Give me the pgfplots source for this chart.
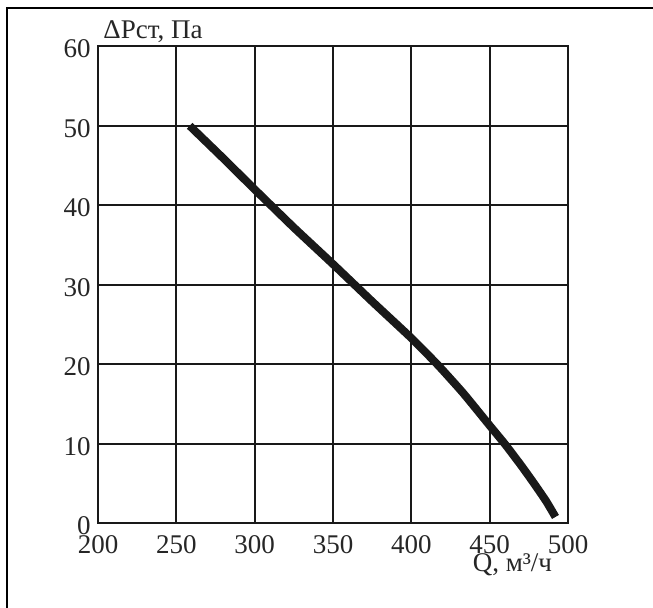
\documentclass[border=0pt]{standalone}
\usepackage{fontspec}
\setmainfont{Liberation Serif}
\usepackage{pgfplots}
\pgfplotsset{compat=1.18}

\begin{document}
\fontsize{13.5bp}{16bp}\selectfont
\begin{tikzpicture}
  % page area, measured from the lower-left corner of the plot box
  \useasboundingbox (-49bp,-42.35bp) rectangle (277.5bp,261.65bp);
  % frame (top and left edges)
  \draw[line width=1.15bp] (-45.5bp,-60bp) -- (-45.5bp,257.6bp) -- (300bp,257.6bp);

  \begin{axis}[
    at={(0,0)}, anchor=south west,
    scale only axis,
    width=235bp, height=238.5bp,
    xmin=200, xmax=500, ymin=0, ymax=60,
    xtick={200,250,...,500}, ytick={0,10,...,60},
    grid=major,
    major grid style={line width=0.95bp, black!90},
    axis line style={line width=1.1bp, black!90},
    major tick length=0pt,
    /pgf/number format/assume math mode=true,
    ticklabel style={font=\fontsize{13.5bp}{16bp}\selectfont, text=black!85},
    xticklabel style={anchor=north, inner sep=0pt, yshift=-5.8bp},
    yticklabel style={anchor=east, inner sep=0pt, xshift=-3.5bp, yshift=-1.3bp},
    clip=false,
  ]
    % fan curve: static pressure vs. air flow
    \addplot[line width=4bp, black!90, line cap=butt, smooth, tension=0.3] coordinates {
      (258.5,50.0) (280,45.9) (300,42.0) (325,37.2) (350,32.6)
      (375,27.9) (400,23.3) (417,19.9) (433,16.4) (450,12.3)
      (460,9.9) (470,7.3) (478,5.1) (486,2.8) (492,0.8)
    };
  \end{axis}

  \node[anchor=base west, inner sep=0pt, text=black!85] at (2.5bp,242.5bp) {ΔPст, Па};
  \node[anchor=base west, inner sep=0pt, text=black!85] at (187.2bp,-24.2bp) {Q, м³/ч};
\end{tikzpicture}
\end{document}
